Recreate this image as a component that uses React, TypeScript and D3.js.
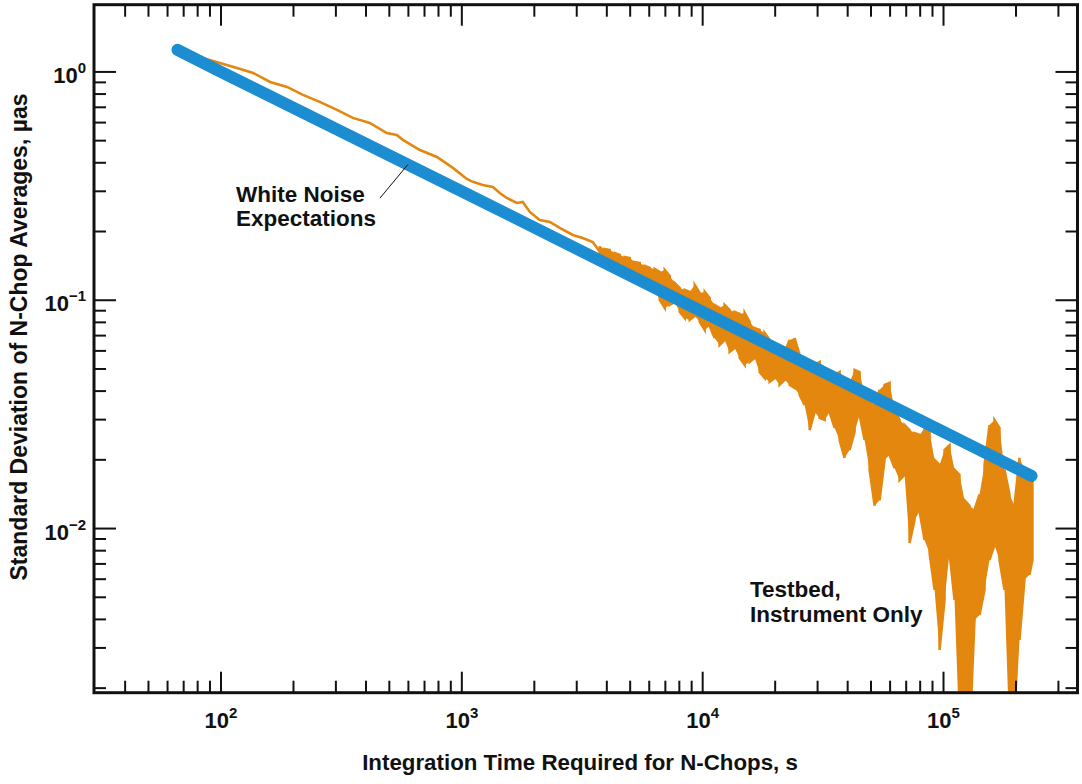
import React from 'react';
import * as d3 from 'd3';

// expected white-noise curve (straight line on log-log)
const blueTime = [66, 100, 1000, 10000, 100000, 232000];
const blueSigma = [1.25, 1.0, 0.3, 0.089, 0.0265, 0.017];

// testbed measurement, smooth early part
const smoothTime = [71, 84, 116.5, 136, 160, 188, 219, 257, 303, 353, 415, 488, 537, 569, 670, 788, 918, 1049, 1111, 1222, 1345, 1438, 1537, 1691, 1791, 1915, 2107, 2318, 2550, 2888, 3177, 3496];
const smoothSigma = [1.224, 1.152, 1.041, 0.99, 0.904, 0.86, 0.793, 0.739, 0.682, 0.629, 0.598, 0.54, 0.53, 0.504, 0.455, 0.424, 0.38, 0.34, 0.33, 0.32, 0.3135, 0.295, 0.2806, 0.2668, 0.2695, 0.2436, 0.2247, 0.2203, 0.2073, 0.1932, 0.1874, 0.18];

// testbed measurement, noisy part: upper / lower excursion at each time
const noisyTime = [3738, 3921, 4113, 4314, 4525, 4746, 4980, 5223, 5479, 5747, 6029, 6324, 6634, 6958, 7299, 7656, 8031, 8424, 8837, 9269, 9718, 10200, 10690, 11210, 11760, 12340, 12940, 13570, 14240, 14940, 15670, 16430, 17240, 18080, 18970, 19900, 20870, 21890, 22960, 24080, 25270, 26500, 27800, 29160, 30590, 32090, 33650, 35300, 37030, 38840, 40740, 42730, 44830, 47020, 49320, 51730, 54270, 56920, 59710, 62630, 65700, 68910, 72280, 75820, 79530, 83420, 87500, 91780, 96280, 101000, 105900, 111100, 116500, 122200, 128200, 134500, 141100, 148000, 155200, 162800, 170800, 179100, 187900, 197100, 206700, 216800, 227400, 234000];
const noisyHigh = [0.1728, 0.1676, 0.1661, 0.1611, 0.158, 0.1546, 0.1531, 0.1472, 0.1457, 0.1413, 0.1385, 0.1371, 0.1331, 0.1358, 0.1278, 0.119, 0.1131, 0.111, 0.1088, 0.1167, 0.1077, 0.1088, 0.1023, 0.0954, 0.0925, 0.0954, 0.0907, 0.0889, 0.0871, 0.088, 0.0804, 0.0756, 0.0741, 0.0719, 0.067, 0.0637, 0.0618, 0.0594, 0.067, 0.0683, 0.0576, 0.0548, 0.0537, 0.0521, 0.0537, 0.0505, 0.0485, 0.0471, 0.0485, 0.0456, 0.0435, 0.0495, 0.0485, 0.0385, 0.0366, 0.0348, 0.0405, 0.0426, 0.0435, 0.0331, 0.0299, 0.0284, 0.027, 0.0262, 0.0257, 0.0276, 0.0265, 0.02, 0.019, 0.0221, 0.0232, 0.0181, 0.0172, 0.0133, 0.0126, 0.0121, 0.0141, 0.019, 0.0284, 0.0299, 0.0276, 0.0181, 0.0141, 0.0126, 0.0204, 0.0181, 0.0177, 0.0163];
const noisyLow = [0.1531, 0.1472, 0.1428, 0.1413, 0.1385, 0.1331, 0.1304, 0.1278, 0.1252, 0.119, 0.1178, 0.111, 0.1003, 0.0925, 0.0954, 0.0983, 0.0889, 0.0836, 0.082, 0.0853, 0.0804, 0.0741, 0.0772, 0.0683, 0.0637, 0.067, 0.0594, 0.0618, 0.0559, 0.0521, 0.0537, 0.0559, 0.0485, 0.0456, 0.0439, 0.0456, 0.0426, 0.0448, 0.0426, 0.0413, 0.0385, 0.0348, 0.027, 0.0324, 0.0305, 0.0299, 0.0324, 0.0276, 0.0244, 0.0204, 0.0221, 0.0265, 0.0315, 0.0244, 0.0181, 0.0126, 0.0133, 0.02, 0.021, 0.0184, 0.0163, 0.0172, 0.00864, 0.0109, 0.0119, 0.00891, 0.00782, 0.00539, 0.00294, 0.00487, 0.00782, 0.00487, 0.0012, 0.0012, 0.0012, 0.00398, 0.00418, 0.00539, 0.00729, 0.00847, 0.00729, 0.00539, 0.0012, 0.0012, 0.00325, 0.00596, 0.00627, 0.00729];

const xMajor = [100, 1000, 10000, 100000];
const xMajorExp = ['2', '3', '4', '5'];
const yMajor = [1, 0.1, 0.01];
const yMajorExp = ['0', '\u22121', '\u22122'];

const font = '"Liberation Sans", Arial, Helvetica, sans-serif';
const orange = '#e3870f';
const blue = '#1b8dd0';

const App = () => {
  const width = 1082;
  const height = 784;
  const left = 94, right = 1077.5, top = 4.7, bottom = 692.7;

  const x = d3.scaleLog().domain([29.7, 360000]).range([left, right]);
  const y = d3.scaleLog().domain([0.00191, 1.97]).range([bottom, top]);

  const line = d3.line<[number, number]>().x(d => x(d[0])).y(d => y(d[1]));

  const smooth: [number, number][] = smoothTime.map((t, i) => [t, smoothSigma[i]]);
  smooth.push([noisyTime[0], (noisyHigh[0] + noisyLow[0]) / 2]);

  // zig-zag through the high / low excursions so spikes show as vertical strokes
  const noisy: [number, number][] = [];
  noisyTime.forEach((t, i) => {
    if (i % 2 === 0) noisy.push([t, noisyHigh[i]], [t, noisyLow[i]]);
    else noisy.push([t, noisyLow[i]], [t, noisyHigh[i]]);
  });

  const band = d3
    .area<number>()
    .x(t => x(t))
    .y0((_, i) => y(noisyLow[i]))
    .y1((_, i) => y(noisyHigh[i]));

  const expected: [number, number][] = blueTime.map((t, i) => [t, blueSigma[i]]);

  const isMajor = (v: number) => Math.abs(Math.log10(v) - Math.round(Math.log10(v))) < 1e-6;
  const xTicks = x.ticks().filter(v => x(v) > left + 2 && x(v) < right - 2);
  const yTicks = y.ticks().filter(v => y(v) > top + 2 && y(v) < bottom - 2);

  return (
    <svg width={width} height={height} style={{ position: 'absolute', left: 0, top: 0, background: '#fff' }}>
      <defs>
        <clipPath id="plot-clip">
          <rect x={left} y={top} width={right - left} height={bottom - top} />
        </clipPath>
      </defs>

      <g clipPath="url(#plot-clip)">
        <path d={line(smooth) || ''} fill="none" stroke={orange} strokeWidth={2.6} />
        <path d={band(noisyTime) || ''} fill={orange} stroke="none" />
        <path d={line(noisy) || ''} fill="none" stroke={orange} strokeWidth={2.5} />
        <path d={line(expected) || ''} fill="none" stroke={blue} strokeWidth={12} strokeLinecap="round" />
      </g>

      {/* ticks */}
      <g stroke="#111" strokeWidth={2}>
        {xTicks.map(v => {
          const len = isMajor(v) ? 21 : 12;
          return (
            <g key={'x' + v}>
              <line x1={x(v)} x2={x(v)} y1={bottom} y2={bottom - len} />
              <line x1={x(v)} x2={x(v)} y1={top} y2={top + len} />
            </g>
          );
        })}
        {yTicks.map(v => {
          const len = isMajor(v) ? 22 : 12;
          return (
            <g key={'y' + v}>
              <line x1={left} x2={left + len} y1={y(v)} y2={y(v)} />
              <line x1={right} x2={right - len} y1={y(v)} y2={y(v)} />
            </g>
          );
        })}
      </g>

      <rect x={left} y={top} width={right - left} height={bottom - top} fill="none" stroke="#111" strokeWidth={3} />

      {/* tick labels */}
      <g fontFamily={font} fontWeight="bold" fill="#111">
        {xMajor.map((v, i) => (
          <text key={v} x={x(v)} y={728} textAnchor="middle" fontSize={22}>
            10<tspan dy={-10} fontSize={15}>{xMajorExp[i]}</tspan>
          </text>
        ))}
        {yMajor.map((v, i) => (
          <text key={v} x={86} y={y(v) + 11} textAnchor="end" fontSize={22}>
            10<tspan dy={-10} fontSize={15}>{yMajorExp[i]}</tspan>
          </text>
        ))}
      </g>

      {/* axis titles */}
      <text x={580} y={770} textAnchor="middle" fontFamily={font} fontWeight="bold" fontSize={22.3} fill="#111">
        Integration Time Required for N-Chops, s
      </text>
      <text transform="translate(27,337) rotate(-90)" textAnchor="middle" fontFamily={font} fontWeight="bold" fontSize={23} fill="#111">
        Standard Deviation of N-Chop Averages, µas
      </text>

      {/* annotations */}
      <g fontFamily={font} fontWeight="bold" fontSize={22.5} fill="#111">
        <text x={236} y={202}>White Noise</text>
        <text x={236} y={226}>Expectations</text>
        <text x={750} y={597}>Testbed,</text>
        <text x={750} y={622}>Instrument Only</text>
      </g>
      <line x1={x(457)} y1={y(0.28)} x2={x(597)} y2={y(0.393)} stroke="#111" strokeWidth={1} />
    </svg>
  );
};

export default App;
